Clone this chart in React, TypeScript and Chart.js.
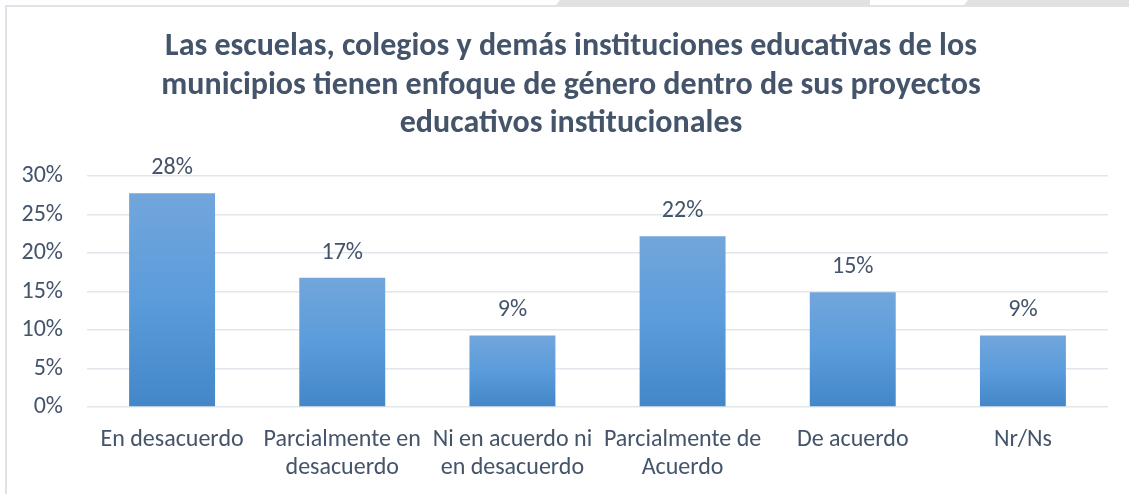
import React, { useEffect, useRef } from "react";
import { Chart, registerables } from "chart.js";

Chart.register(...registerables);

const categories: (string | string[])[] = [
  "En desacuerdo",
  ["Parcialmente en", "desacuerdo"],
  ["Ni en acuerdo ni", "en desacuerdo"],
  ["Parcialmente de", "Acuerdo"],
  "De acuerdo",
  "Nr/Ns",
];
const values: number[] = [27.8, 16.8, 9.3, 22.2, 14.9, 9.3];
const valueLabels: string[] = ["28%", "17%", "9%", "22%", "15%", "9%"];
const titleLines: string[] = [
  "Las escuelas, colegios y demás instituciones educativas de los",
  "municipios tienen enfoque de género dentro de sus proyectos",
  "educativos institucionales",
];

const TEXT = "#44546A";
const FONT = "Carlito, 'Liberation Sans Narrow', Lato, sans-serif";

const titleShiftPlugin = {
  id: "titleShift",
  afterLayout(chart: any) {
    const t = chart.titleBlock;
    if (t) {
      t.left += 34;
    }
  },
};

const labelPlugin = {
  id: "valueLabels",
  afterDatasetsDraw(chart: any) {
    const ctx = chart.ctx;
    const meta = chart.getDatasetMeta(0);
    ctx.save();
    ctx.font = `24px ${FONT}`;
    ctx.fillStyle = TEXT;
    ctx.textAlign = "center";
    ctx.textBaseline = "middle";
    meta.data.forEach((bar: any, i: number) => {
      ctx.fillText(valueLabels[i], bar.x, bar.y - 25);
    });
    ctx.restore();
  },
};

export default function App() {
  const ref = useRef<HTMLCanvasElement | null>(null);
  useEffect(() => {
    document.body.style.margin = "0";
    const canvas = ref.current!;
    const chart = new Chart(canvas, {
      type: "bar",
      data: {
        labels: categories,
        datasets: [
          {
            data: values,
            backgroundColor: "#5b9bd5",
            borderWidth: 0,
            barPercentage: 0.505,
            categoryPercentage: 1,
          },
        ],
      },
      options: {
        responsive: false,
        animation: false,
        layout: { padding: { left: 0, right: 21, top: 0, bottom: 0 } },
        plugins: {
          legend: { display: false },
          tooltip: { enabled: false },
          title: {
            display: true,
            text: titleLines,
            color: TEXT,
            font: { family: FONT, size: 32, weight: "bold", lineHeight: 1.2 },
            padding: { top: 28, bottom: 33 },
          },
        },
        scales: {
          x: {
            grid: { display: false, drawTicks: false },
            border: { display: false },
            ticks: {
              color: TEXT,
              font: { family: FONT, size: 24, lineHeight: 1.167 },
              padding: 19,
              maxRotation: 0,
              autoSkip: false,
            },
            afterFit: (s: any) => {
              s.height = 87;
            },
          },
          y: {
            min: 0,
            max: 30,
            grid: { color: "#e1e5ec", lineWidth: 1.5, drawTicks: false },
            border: { display: false },
            ticks: {
              stepSize: 5,
              color: TEXT,
              font: { family: FONT, size: 24 },
              padding: 24,
              callback: (v: any) => v + "%",
            },
            afterFit: (s: any) => {
              s.width = 87;
            },
          },
        },
      },
      plugins: [titleShiftPlugin, labelPlugin],
    });
    const meta = chart.getDatasetMeta(0);
    const grads = meta.data.map((bar: any) => {
      const g = chart.ctx.createLinearGradient(0, bar.y, 0, bar.base);
      g.addColorStop(0, "#72a6db");
      g.addColorStop(0.5, "#5b9cdb");
      g.addColorStop(1, "#4387c8");
      return g;
    });
    (chart.data.datasets[0] as any).backgroundColor = grads;
    chart.update();
    return () => chart.destroy();
  }, []);

  return (
    <div style={{ position: "relative", width: 1129, height: 494, overflow: "hidden", background: "#fff" }}>
      <div style={{ position: "absolute", left: 556, top: 0, width: 314, height: 5, background: "#e1e1e1", clipPath: "polygon(4px 0, 100% 0, 100% 100%, 0 100%)" }} />
      <div style={{ position: "absolute", left: 964, top: 0, width: 165, height: 5, background: "#e1e1e1", clipPath: "polygon(4px 0, 100% 0, 100% 100%, 0 100%)" }} />
      <div style={{ position: "absolute", left: 5, top: 5, width: 1130, height: 500, borderLeft: "2px solid #dfe3e9", borderTop: "2px solid #dfe3e9" }} />
      <canvas ref={ref} width={1129} height={494} style={{ position: "absolute", left: 0, top: 0 }} />
    </div>
  );
}
